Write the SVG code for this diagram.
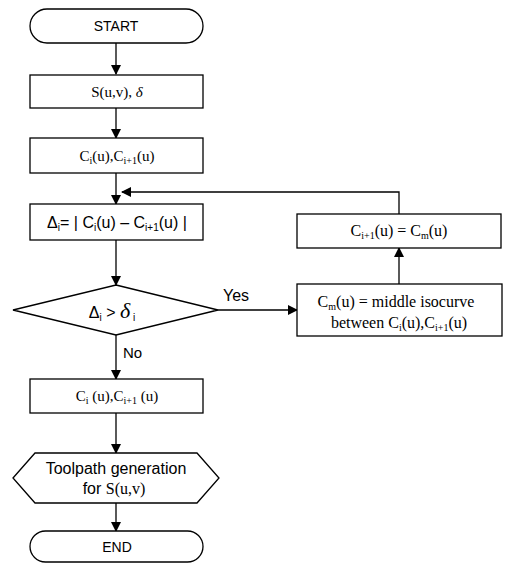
<svg xmlns="http://www.w3.org/2000/svg" width="505" height="564" viewBox="0 0 505 564">
<style>
.s{fill:#fff;stroke:#000;stroke-width:1.3}
.c{fill:none;stroke:#000;stroke-width:1.3}
.sans{font-family:"Liberation Sans",Arial,sans-serif;font-size:14px;fill:#000}
.ser{font-family:"Liberation Serif","Times New Roman",serif;font-size:15px;fill:#000}
.sub{font-size:10px}
</style>
<defs>
<marker id="ah" markerWidth="10" markerHeight="10" refX="9" refY="5" orient="auto" markerUnits="userSpaceOnUse">
<path d="M0,0 L10,5 L0,10 Z" fill="#000"/>
</marker>
</defs>
<rect width="505" height="564" fill="#fff"/>
<g id="connectors">
<line class="c" x1="116" y1="43" x2="116" y2="74" marker-end="url(#ah)"/>
<line class="c" x1="116" y1="108" x2="116" y2="138" marker-end="url(#ah)"/>
<line class="c" x1="116" y1="173" x2="116" y2="204" marker-end="url(#ah)"/>
<polyline class="c" points="399,214 399,192 122,192" marker-end="url(#ah)"/>
<line class="c" x1="116" y1="240" x2="116" y2="285" marker-end="url(#ah)"/>
<line class="c" x1="218" y1="310" x2="297" y2="310" marker-end="url(#ah)"/>
<line class="c" x1="399" y1="284" x2="399" y2="248" marker-end="url(#ah)"/>
<line class="c" x1="116" y1="335" x2="116" y2="379" marker-end="url(#ah)"/>
<line class="c" x1="116" y1="413" x2="116" y2="453" marker-end="url(#ah)"/>
<line class="c" x1="116" y1="503" x2="116" y2="531" marker-end="url(#ah)"/>
<text class="sans" x="223" y="301" style="font-size:16px">Yes</text>
<text class="sans" x="123" y="358" style="font-size:15px">No</text>
</g>
<g id="start">
<rect class="s" x="30" y="9" width="173" height="34" rx="17" ry="17"/>
<text class="sans" x="116" y="31" text-anchor="middle">START</text>
</g>
<g id="input">
<rect class="s" x="30" y="75" width="173" height="33"/>
<text class="ser" x="117" y="97" text-anchor="middle">S(u,v), <tspan font-style="italic">δ</tspan></text>
</g>
<g id="curves">
<rect class="s" x="30" y="138" width="173" height="35"/>
<text class="ser" x="117" y="161" text-anchor="middle">C<tspan class="sub" dy="3">i</tspan><tspan dy="-3">(u),C</tspan><tspan class="sub" dy="3">i+1</tspan><tspan dy="-3">(u)</tspan></text>
</g>
<g id="delta">
<rect class="s" x="30" y="204" width="173" height="36"/>
<text class="sans" x="117" y="228" text-anchor="middle" style="font-size:16px">Δ<tspan class="sub" dy="3">i</tspan><tspan dy="-3">= | C</tspan><tspan class="sub" dy="3">i</tspan><tspan dy="-3">(u) – C</tspan><tspan class="sub" dy="3">i+1</tspan><tspan dy="-3">(u) |</tspan></text>
</g>
<g id="decision">
<polygon class="s" points="116,285 218,310 116,335 13,310"/>
<text class="sans" x="112" y="318" text-anchor="middle" style="font-size:16px">Δ<tspan class="sub" dy="3">i</tspan><tspan dy="-3"> &gt; </tspan><tspan style="font-family:'Liberation Serif',serif;font-style:italic;font-size:22px">δ</tspan><tspan class="sub" dy="3"> i</tspan></text>
</g>
<g id="middle">
<rect class="s" x="297" y="284" width="205" height="52"/>
<text class="ser" x="396" y="307" text-anchor="middle" style="font-size:16px">C<tspan class="sub" dy="3">m</tspan><tspan dy="-3">(u) = middle isocurve</tspan></text>
<text class="ser" x="399" y="328" text-anchor="middle" style="font-size:16px">between C<tspan class="sub" dy="3">i</tspan><tspan dy="-3">(u),C</tspan><tspan class="sub" dy="3">i+1</tspan><tspan dy="-3">(u)</tspan></text>
</g>
<g id="update">
<rect class="s" x="297" y="214" width="204" height="34"/>
<text class="ser" x="399" y="236" text-anchor="middle" style="font-size:16px">C<tspan class="sub" dy="3">i+1</tspan><tspan dy="-3">(u) = C</tspan><tspan class="sub" dy="3">m</tspan><tspan dy="-3">(u)</tspan></text>
</g>
<g id="result">
<rect class="s" x="30" y="379" width="173" height="34"/>
<text class="ser" x="117" y="401" text-anchor="middle">C<tspan class="sub" dy="3">i</tspan><tspan dy="-3"> (u),C</tspan><tspan class="sub" dy="3">i+1</tspan><tspan dy="-3"> (u)</tspan></text>
</g>
<g id="toolpath">
<polygon class="s" points="13,478 35,453 197,453 219,478 197,503 35,503"/>
<text class="sans" x="116" y="474" text-anchor="middle" style="font-size:16px">Toolpath generation</text>
<text class="sans" x="114" y="494" text-anchor="middle" style="font-size:16px">for <tspan class="ser" style="font-size:16px">S(u,v)</tspan></text>
</g>
<g id="end">
<rect class="s" x="30" y="531" width="173" height="31" rx="15.5" ry="15.5"/>
<text class="sans" x="117" y="552" text-anchor="middle">END</text>
</g>
</svg>
